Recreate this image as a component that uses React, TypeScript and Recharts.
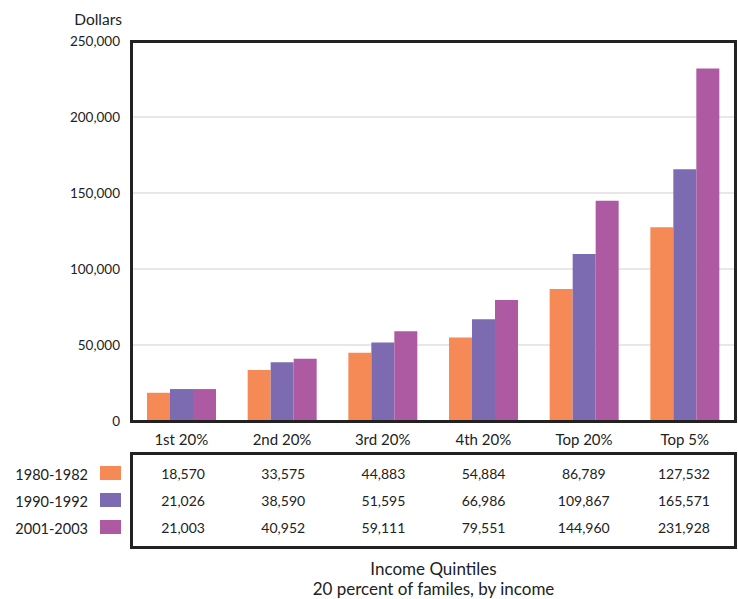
import React from 'react';
import { BarChart, Bar, XAxis, YAxis, CartesianGrid } from 'recharts';

const quintiles = ['1st 20%', '2nd 20%', '3rd 20%', '4th 20%', 'Top 20%', 'Top 5%'];
const periods = ['1980-1982', '1990-1992', '2001-2003'];
const income1980 = [18570, 33575, 44883, 54884, 86789, 127532];
const income1990 = [21026, 38590, 51595, 66986, 109867, 165571];
const income2001 = [21003, 40952, 59111, 79551, 144960, 231928];
const yTicks = [0, 50000, 100000, 150000, 200000, 250000];

const colors = ['#F68A56', '#7D6BB1', '#AD5AA3'];
const font = 'Lato, "Open Sans", sans-serif';
const ink = '#222';

const series = [income1980, income1990, income2001];
const keys = ['p1980', 'p1990', 'p2001'];

const data = quintiles.map((q, i) => ({
  quintile: q,
  p1980: income1980[i],
  p1990: income1990[i],
  p2001: income2001[i],
}));

const fmt = (v: number) => v.toLocaleString('en-US');

export default function App() {
  return (
    <div style={{ position: 'absolute', left: 0, top: 0, width: 738, height: 599, fontFamily: font, color: ink, background: '#fff' }}>
      <div style={{ position: 'absolute', left: 50, top: 9, width: 72, textAlign: 'right', fontSize: 15.5, lineHeight: '20px' }}>Dollars</div>

      <BarChart
        width={738}
        height={460}
        data={data}
        margin={{ top: 41, right: 3, left: 0, bottom: 9 }}
        barSize={23}
        barGap={0}
      >
        <CartesianGrid vertical={false} stroke="#cfcfcf" />
        <XAxis
          dataKey="quintile"
          height={30}
          axisLine={false}
          tickLine={false}
          tickMargin={7}
          tick={{ fill: ink, fontSize: 15, fontFamily: font }}
        />
        <YAxis
          width={131}
          domain={[0, 250000]}
          ticks={yTicks}
          axisLine={false}
          tickLine={false}
          tickMargin={5}
          tickFormatter={fmt}
          tick={{ fill: ink, fontSize: 13.5, fontFamily: font }}
        />
        {keys.map((k, i) => (
          <Bar key={k} dataKey={k} fill={colors[i]} isAnimationActive={false} />
        ))}
      </BarChart>

      {/* plot frame */}
      <div style={{ position: 'absolute', left: 130, top: 40, width: 607, height: 383, boxSizing: 'border-box', border: `3px solid ${ink}`, pointerEvents: 'none' }} />

      {/* legend labels + swatches */}
      {periods.map((p, i) => (
        <div key={p}>
          <div style={{ position: 'absolute', left: 0, width: 88, top: 466 + i * 27, textAlign: 'right', fontSize: 14.5, lineHeight: '18px' }}>{p}</div>
          <div style={{ position: 'absolute', left: 100, top: 466 + i * 27, width: 21, height: 14, background: colors[i] }} />
        </div>
      ))}

      {/* data table */}
      <div style={{ position: 'absolute', left: 130, top: 452, width: 607, height: 97, boxSizing: 'border-box', border: `3px solid ${ink}`, paddingTop: 10 }}>
        {series.map((row, r) => (
          <div key={r} style={{ display: 'flex', height: 27, fontSize: 14, lineHeight: '18px' }}>
            {row.map((v, c) => (
              <div key={c} style={{ flex: 1, textAlign: 'center' }}>{fmt(v)}</div>
            ))}
          </div>
        ))}
      </div>

      <div style={{ position: 'absolute', left: 130, width: 607, top: 559, textAlign: 'center', fontSize: 17, lineHeight: '20px' }}>
        Income Quintiles
        <br />
        20 percent of familes, by income
      </div>
    </div>
  );
}
